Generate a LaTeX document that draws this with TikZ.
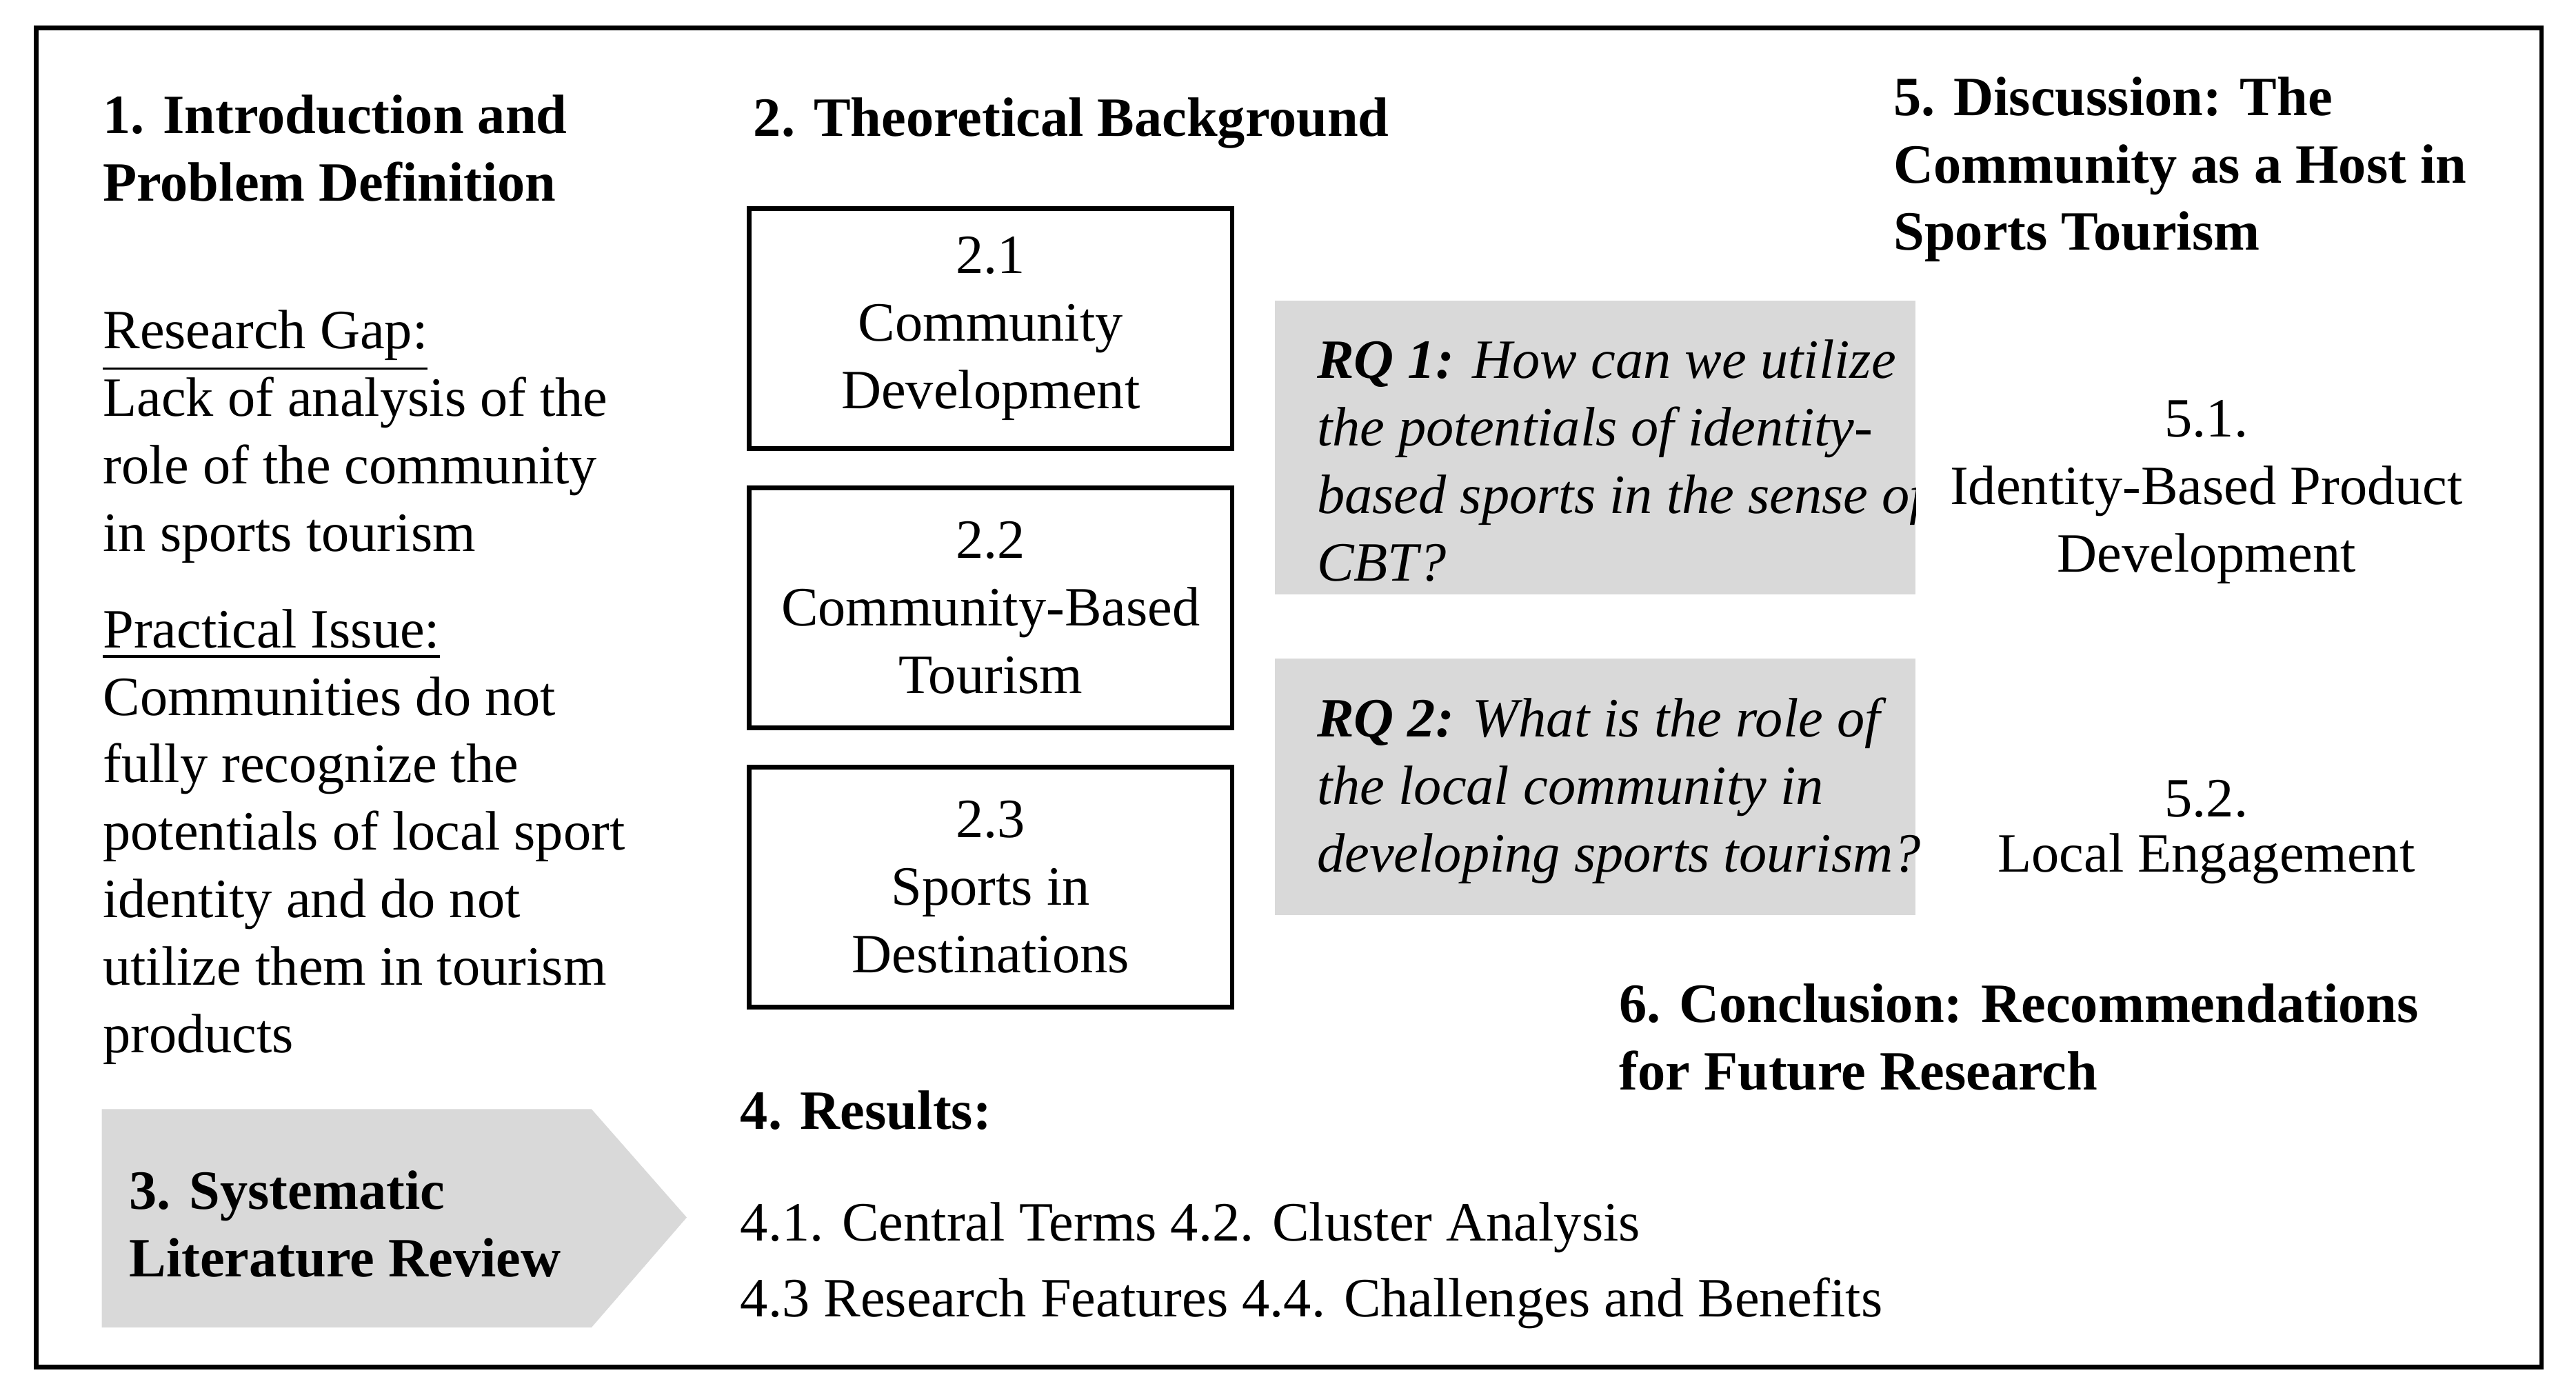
\documentclass[tikz,border=0pt]{standalone}
\usepackage{fontspec}
\setmainfont{Liberation Serif}
\begin{document}
\begin{tikzpicture}[x=1cm,y=1cm,
  txt/.style={inner sep=0pt,anchor=north west,align=left,font=\fontsize{9.6}{11.7}\selectfont},
  ctr/.style={inner sep=0pt,anchor=north,align=center,font=\fontsize{9.6}{11.7}\selectfont},
  hd/.style={txt,font=\fontsize{9.6}{11.7}\selectfont\bfseries},
  box/.style={draw=black,line width=0.8pt},
  gbox/.style={fill=black!15,draw=none}]
\useasboundingbox (0,0) rectangle (15.68,8.49);
\draw[line width=0.8pt] (0.22,0.17) rectangle (15.47,8.32);
% column 1
\node[hd] (h1) at (0.62,8.62-0.7) {1. Introduction and\\Problem Definition};
\node[txt] (gap) at (0.62,8.49-1.88) {\underline{Research Gap:}\\Lack of analysis of the\\role of the community\\in sports tourism};
\node[txt] (iss) at (0.62,8.49-3.70) {\underline{Practical Issue:}\\Communities do not\\fully recognize the\\potentials of local sport\\identity and do not\\utilize them in tourism\\products};
\fill[black!15] (0.62,8.49-6.75) -- (3.60,8.49-6.75) -- (4.18,8.49-7.41) -- (3.60,8.49-8.08) -- (0.62,8.49-8.08) -- cycle;
\node[hd] (slr) at (0.78,8.49-7.12) {3. Systematic\\Literature Review};
% column 2
\node[hd] (h2) at (4.58,8.49-0.59) {2. Theoretical Background};
\draw[box] (4.56,8.49-1.27) rectangle node[ctr,anchor=center] (b1) {2.1\\Community\\Development} (7.50,8.49-2.73);
\draw[box] (4.56,8.49-2.97) rectangle node[ctr,anchor=center] (b2) {2.2\\Community-Based\\Tourism} (7.50,8.49-4.43);
\draw[box] (4.56,8.49-4.67) rectangle node[ctr,anchor=center] (b3) {2.3\\Sports in\\Destinations} (7.50,8.49-6.13);
\node[hd] (h4) at (4.50,8.49-6.63) {4. Results:};
\node[txt] (res) at (4.50,8.49-7.31) {4.1. Central Terms 4.2. Cluster Analysis\\[0.05cm]4.3 Research Features 4.4. Challenges and Benefits};
% RQ boxes
\fill[black!15] (7.76,8.49-1.83) rectangle (11.66,8.49-3.62);
\begin{scope}
\clip (7.76,8.49-1.83) rectangle (11.66,8.49-3.55);
\node[txt,font=\fontsize{9.6}{11.7}\selectfont\itshape] (rq1) at (8.01,8.49-2.06) {\textbf{RQ 1:} How can we utilize\\the potentials of identity-\\based sports in the sense of\\CBT?};
\end{scope}
\fill[black!15] (7.76,8.49-4.01) rectangle (11.66,8.49-5.57);
\node[txt,font=\fontsize{9.6}{11.7}\selectfont\itshape] (rq2) at (8.01,8.49-4.24) {\textbf{RQ 2:} What is the role of\\the local community in\\developing sports tourism?};
% column 3
\node[hd] (h5) at (11.52,8.49-0.46) {5. Discussion: The\\Community as a Host in\\Sports Tourism};
\node[ctr] (d51) at (13.43,8.49-2.43) {5.1.\\Identity-Based Product\\Development};
\node[ctr,font=\fontsize{9.6}{9.6}\selectfont] (d52) at (13.43,8.49-4.74) {5.2.\\Local Engagement};
\node[hd] (h6) at (9.85,8.49-5.98) {6. Conclusion: Recommendations\\for Future Research};
\end{tikzpicture}
\end{document}
